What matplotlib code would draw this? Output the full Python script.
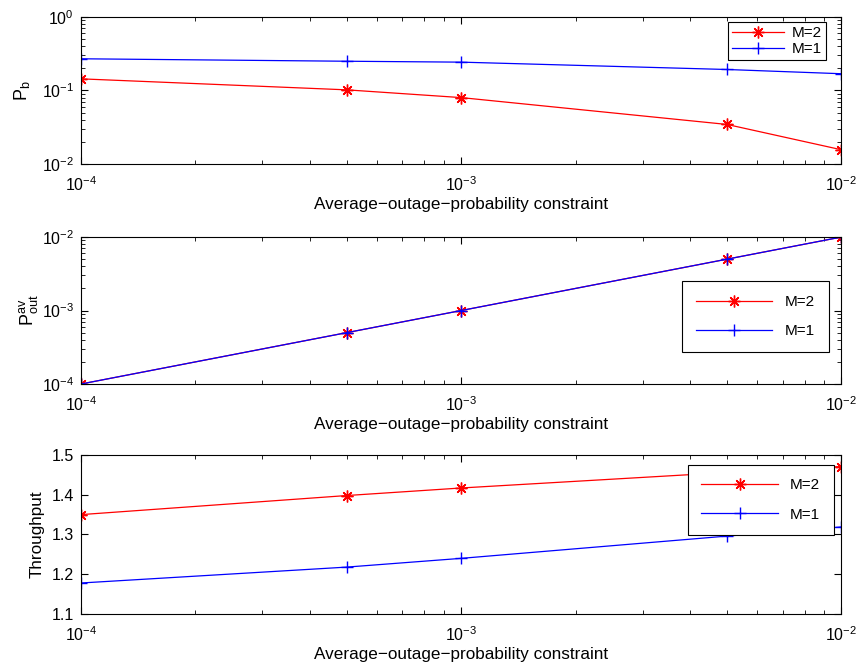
import numpy as np
import matplotlib
matplotlib.use("Agg")
import matplotlib.pyplot as plt

plt.rcParams["font.family"] = ["Liberation Sans", "DejaVu Sans"]
plt.rcParams["mathtext.fontset"] = "custom"
plt.rcParams["mathtext.rm"] = "Liberation Sans"
plt.rcParams["mathtext.it"] = "Liberation Sans:italic"
plt.rcParams["font.size"] = 11

# data
constraint = [1e-4, 5e-4, 1e-3, 5e-3, 1e-2]
pb_m2 = [0.144, 0.102, 0.080, 0.0345, 0.0156]
pb_m1 = [0.27, 0.25, 0.243, 0.193, 0.169]
pout_m2 = [1e-4, 5e-4, 1e-3, 5e-3, 1e-2]
pout_m1 = [1e-4, 5e-4, 1e-3, 5e-3, 1e-2]
thr_m2 = [1.350, 1.398, 1.417, 1.456, 1.471]
thr_m1 = [1.178, 1.218, 1.240, 1.296, 1.319]
labels = ["M=2", "M=1"]

fig = plt.figure(figsize=(8.59, 6.69), dpi=100)
ax1 = fig.add_axes([0.0943, 0.7549, 0.8853, 0.2197])
ax2 = fig.add_axes([0.0943, 0.4260, 0.8853, 0.2197])
ax3 = fig.add_axes([0.0943, 0.0822, 0.8853, 0.2377])

xlab = "Average\u2212outage\u2212probability constraint"
star = (8, 2, 0)  # asterisk like matlab '*' (+ and x together)

def style(ax):
    ax.set_xscale("log")
    ax.set_xlim(1e-4, 1e-2)
    ax.tick_params(which="both", direction="in", top=True, right=True, labelsize=11.5)
    ax.tick_params(axis="x", which="major", pad=8)
    ax.tick_params(axis="y", which="major", pad=5)
    ax.tick_params(which="major", length=5)
    ax.tick_params(which="minor", length=3)
    ax.set_xlabel(xlab, fontsize=12.3, labelpad=2)
    for s in ax.spines.values():
        s.set_linewidth(0.8)

def draw(ax, y2, y1):
    ax.plot(constraint, y2, color="red", marker=star, markersize=8.5, mew=1.0, lw=0.9, label=labels[0])
    ax.plot(constraint, y1, color="blue", marker="+", markersize=9, mew=1.0, lw=0.9, label=labels[1])

# panel 1
draw(ax1, pb_m2, pb_m1)
ax1.set_yscale("log")
ax1.set_ylim(1e-2, 1)
ax1.set_ylabel("P$_{\\mathregular{b}}$", fontsize=13, labelpad=7)
style(ax1)
leg = ax1.legend(loc="upper right", bbox_to_anchor=(0.979, 0.965), fancybox=False, framealpha=1,
                 edgecolor="black", fontsize=11, handlelength=3.4, borderpad=0.25,
                 labelspacing=0.15, borderaxespad=0, handletextpad=0.5)
leg.get_frame().set_linewidth(0.8)

# panel 2
draw(ax2, pout_m2, pout_m1)
ax2.set_yscale("log")
ax2.set_ylim(1e-4, 1e-2)
ax2.set_ylabel("P$^{\\mathregular{av}}_{\\mathregular{out}}$", fontsize=13, labelpad=1)
style(ax2)
leg = ax2.legend(loc="upper right", bbox_to_anchor=(0.983, 0.70), fancybox=False, framealpha=1,
                 edgecolor="black", fontsize=11, handlelength=5.0, borderpad=0.9,
                 labelspacing=1.0, borderaxespad=0, handletextpad=0.8)
leg.get_frame().set_linewidth(0.8)

# panel 3
draw(ax3, thr_m2, thr_m1)
ax3.set_ylim(1.1, 1.5)
ax3.set_yticks([1.1, 1.2, 1.3, 1.4, 1.5])
ax3.set_ylabel("Throughput", fontsize=12.3, labelpad=5)
style(ax3)
leg = ax3.legend(loc="upper right", bbox_to_anchor=(0.99, 0.94), fancybox=False, framealpha=1,
                 edgecolor="black", fontsize=11, handlelength=5.0, borderpad=0.9,
                 labelspacing=1.0, borderaxespad=0, handletextpad=0.8)
leg.get_frame().set_linewidth(0.8)

fig.savefig("out.png", dpi=100)
